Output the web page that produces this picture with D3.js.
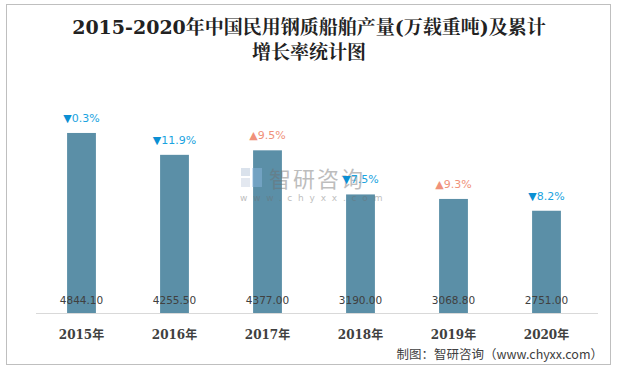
<!DOCTYPE html>
<html><head><meta charset="utf-8">
<script src="https://cdn.jsdelivr.net/npm/d3@7"></script>
<style>body{margin:0;background:#fff}svg{display:block}</style>
</head><body><svg id="c" width="618" height="369"></svg>
<script>
const years = ["2015年","2016年","2017年","2018年","2019年","2020年"];
const output = [4844.10, 4255.50, 4377.00, 3190.00, 3068.80, 2751.00];
const growth = [-0.3, -11.9, 9.5, -7.5, 9.3, -8.2];
const titleLines = ["2015-2020年中国民用钢质船舶产量(万载重吨)及累计", "增长率统计图"];
const source = "制图：智研咨询（www.chyxx.com）";

const svg = d3.select("#c");
svg.append("rect").attr("x",6.5).attr("y",4.5).attr("width",604).attr("height",360)
  .attr("fill","#fff").attr("stroke","#bfbfbf");

const x = d3.scaleBand().domain(years).range([35,593]).paddingInner(0.69).paddingOuter(0.345);
const y = d3.scaleLinear().domain([0,6000]).range([313,90]);

svg.selectAll("text.title").data(titleLines).enter().append("text")
  .attr("x",309).attr("y",(d,i)=>34+i*25).attr("text-anchor","middle")
  .attr("font-family","'DejaVu Serif','Noto Serif CJK SC','Noto Sans CJK SC',serif")
  .attr("font-size",19).attr("font-weight","bold").attr("fill","#222").text(d=>d);

svg.selectAll("rect.bar").data(output).enter().append("rect")
  .attr("x",(d,i)=>x(years[i])).attr("width",x.bandwidth())
  .attr("y",d=>y(d)).attr("height",d=>y(0)-y(d)).attr("fill","#5b8fa7");

svg.append("line").attr("x1",36).attr("x2",598).attr("y1",313.5).attr("y2",313.5)
  .attr("stroke","#d9d9d9");

svg.selectAll("text.val").data(output).enter().append("text")
  .attr("x",(d,i)=>x(years[i])+x.bandwidth()/2).attr("y",304).attr("text-anchor","middle")
  .attr("font-family","'DejaVu Sans',sans-serif").attr("font-size",10.5).attr("fill","#404040")
  .text(d=>d.toFixed(2));

// watermark (on top, translucent)
const wm = svg.append("g").attr("opacity",0.45);
wm.append("rect").attr("x",241).attr("y",168).attr("width",9).attr("height",8).attr("fill","#aebfd6");
wm.append("rect").attr("x",241).attr("y",178).attr("width",9).attr("height",9).attr("fill","#c2cde0");
wm.append("rect").attr("x",252).attr("y",168).attr("width",10).attr("height",19).attr("fill","#8fbbe3");
wm.append("text").attr("x",269).attr("y",187).attr("font-family","'Noto Sans CJK SC'")
  .attr("font-size",22).attr("fill","#6f6f6f").attr("letter-spacing",2).text("智研咨询");
wm.append("text").attr("x",240).attr("y",201).attr("font-family","'DejaVu Sans'")
  .attr("font-size",9).attr("fill","#6f6f6f").attr("letter-spacing",5.8).text("www.chyxx.com");

const g = svg.selectAll("text.gr").data(growth).enter().append("text")
  .attr("x",(d,i)=>x(years[i])+x.bandwidth()/2).attr("y",(d,i)=>y(output[i])-11)
  .attr("text-anchor","middle").attr("font-family","'DejaVu Sans',sans-serif").attr("font-size",11);
g.append("tspan").attr("fill",d=>d<0?"#0b8fd3":"#f0917a").text(d=>d<0?"▼":"▲");
g.append("tspan").attr("fill",d=>d<0?"#1aa3e0":"#f0917a").text(d=>Math.abs(d).toFixed(1)+"%");

svg.append("g").selectAll("text").data(years).enter().append("text")
  .attr("x",d=>x(d)+x.bandwidth()/2).attr("y",339).attr("text-anchor","middle")
  .attr("font-family","'DejaVu Serif','Noto Sans CJK SC',serif").attr("font-weight","bold")
  .attr("font-size",12).attr("fill","#404040").text(d=>d);

svg.append("text").attr("x",603).attr("y",359).attr("text-anchor","end")
  .attr("font-family","'Noto Sans CJK SC',sans-serif").attr("font-size",12.5).attr("fill","#404040")
  .text(source);
</script></body></html>
